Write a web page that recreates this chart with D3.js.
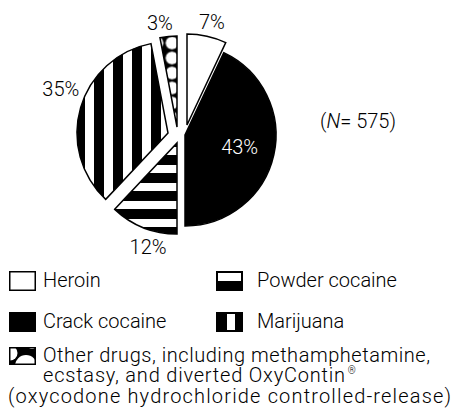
<!DOCTYPE html>
<html>
<head>
<meta charset="utf-8">
<script src="https://cdn.jsdelivr.net/npm/d3@7"></script>
<style>
  body { margin: 0; background: #fff; }
  text { font-family: Roboto, "Liberation Sans", Arial, sans-serif; font-weight: 300; fill: #000; }
</style>
</head>
<body>
<svg id="chart" width="453" height="412"></svg>
<script>
// data
var categories = ["Heroin", "Crack cocaine", "Powder cocaine", "Marijuana", "Other drugs"];
var values = [7, 43, 12, 35, 3];
var sampleN = 575;
var legendText = {
    "Heroin": ["Heroin"],
    "Crack cocaine": ["Crack cocaine"],
    "Powder cocaine": ["Powder cocaine"],
    "Marijuana": ["Marijuana"],
    "Other drugs": ["Other drugs, including methamphetamine,", "ecstasy, and diverted  OxyContin", "(oxycodone hydrochloride controlled-release)"]
};

// layout / style
var W = 453, H = 412;
var cx = 179, cy = 131, R = 91;
// hand-placed explode offsets of the original, one per slice
var explode = [[8, -6], [6, 4], [-2, 12], [-11, 2], [-2, -4]];
// small angular nudges (degrees) of the % labels, as placed in the original
var labelNudge = [1, 0, -6, 6, -4];
var fills = ["#fff", "#000", "url(#powder)", "url(#marijuana)", "url(#other)"];
// widths the long legend lines take in the original
var otherLineWidths = [387, 302, 443];

var svg = d3.select("#chart");
var defs = svg.append("defs");

// horizontal stripes
var p1 = defs.append("pattern").attr("id", "powder")
    .attr("patternUnits", "userSpaceOnUse").attr("width", 18).attr("height", 18)
    .attr("y", 4);
p1.append("rect").attr("width", 18).attr("height", 18).attr("fill", "#fff");
p1.append("rect").attr("y", 8).attr("width", 18).attr("height", 10).attr("fill", "#000");

// vertical stripes
var p2 = defs.append("pattern").attr("id", "marijuana")
    .attr("patternUnits", "userSpaceOnUse").attr("width", 19).attr("height", 19)
    .attr("x", 2);
p2.append("rect").attr("width", 19).attr("height", 19).attr("fill", "#fff");
p2.append("rect").attr("width", 10).attr("height", 19).attr("fill", "#000");

// bubbles
var p3 = defs.append("pattern").attr("id", "other")
    .attr("patternUnits", "userSpaceOnUse").attr("width", 15).attr("height", 15)
    .attr("x", 2.5).attr("y", -1.5);
p3.append("rect").attr("width", 15).attr("height", 15).attr("fill", "#000");
p3.append("circle").attr("cx", 7.5).attr("cy", 7.5).attr("r", 6.8)
    .attr("fill", "#fff").attr("stroke", "#000").attr("stroke-width", 1);

var pie = d3.pie().sort(null).value(function(d){ return d; });
var arc = d3.arc().innerRadius(0).outerRadius(R);
var arcs = pie(values);

var g = svg.append("g").attr("transform", "translate(" + cx + "," + cy + ")");

var slice = g.selectAll(".slice")
    .data(arcs)
    .enter()
    .append("g")
    .attr("class", "slice")
    .attr("transform", function(d, i){ return "translate(" + explode[i][0] + "," + explode[i][1] + ")"; });

slice.append("path")
    .attr("d", arc)
    .attr("fill", function(d, i){ return fills[i]; })
    .attr("stroke", "#000")
    .attr("stroke-width", 1.5);

// percentage labels
slice.append("text")
    .attr("font-size", 20)
    .attr("text-anchor", "middle")
    .attr("dy", "0.35em")
    .style("fill", function(d, i){ return i === 1 ? "#fff" : "#000"; })
    .text(function(d){ return d.data + "%"; })
    .attr("transform", function(d, i){
        var a = (d.startAngle + d.endAngle) / 2 + labelNudge[i] * Math.PI / 180;
        var w = this.getComputedTextLength();
        var r;
        if (i === 1) r = 56;
        else r = R + 5 + w / 2 * Math.abs(Math.sin(a)) + 7 * Math.abs(Math.cos(a));
        return "translate(" + (r * Math.sin(a)) + "," + (-r * Math.cos(a)) + ")";
    });

// sample size
var nt = svg.append("text").attr("x", 320).attr("y", 128).attr("font-size", 20);
nt.append("tspan").text("(");
nt.append("tspan").attr("font-style", "italic").text("N");
nt.append("tspan").text("= " + sampleN + ")");

// legend
var legendOrder = ["Heroin", "Powder cocaine", "Crack cocaine", "Marijuana", "Other drugs"];
var colX = [9, 216], rowY = [271, 312, 347];
var bw = 27, bh = 20;

var leg = svg.selectAll(".legend")
    .data(legendOrder)
    .enter()
    .append("g")
    .attr("class", "legend")
    .attr("transform", function(d, i){
        return "translate(" + colX[i % 2] + "," + rowY[Math.floor(i / 2)] + ")";
    });

defs.append("clipPath").attr("id", "iconclip")
    .append("rect").attr("x", 1.5).attr("y", 1.5).attr("width", bw - 3).attr("height", bh - 5);

leg.each(function(name){
    var el = d3.select(this);
    var h = name === "Other drugs" ? bh - 2 : bh;
    if (name === "Heroin") {
        el.append("rect").attr("x", 0.75).attr("y", 0.75).attr("width", bw - 1.5).attr("height", h - 1.5)
            .attr("fill", "#fff").attr("stroke", "#000").attr("stroke-width", 1.5);
    } else if (name === "Crack cocaine") {
        el.append("rect").attr("width", bw).attr("height", h).attr("fill", "#000");
    } else if (name === "Powder cocaine") {
        el.append("rect").attr("width", bw).attr("height", h).attr("fill", "#000");
        el.append("rect").attr("x", 2).attr("y", 2).attr("width", bw - 4).attr("height", h / 2 - 2).attr("fill", "#fff");
    } else if (name === "Marijuana") {
        el.append("rect").attr("width", bw).attr("height", h).attr("fill", "#000");
        el.append("rect").attr("x", 11).attr("y", 2).attr("width", 8).attr("height", h - 4).attr("fill", "#fff");
    } else {
        el.append("rect").attr("width", bw).attr("height", h).attr("fill", "#000");
        var ic = el.append("g").attr("clip-path", "url(#iconclip)");
        ic.append("circle").attr("cx", 1).attr("cy", 6).attr("r", 7.5).attr("fill", "#fff");
        ic.append("circle").attr("cx", 17).attr("cy", h + 1).attr("r", 11).attr("fill", "#fff");
        ic.append("circle").attr("cx", 23).attr("cy", -3).attr("r", 5).attr("fill", "#fff");
    }
});

leg.each(function(name){
    var el = d3.select(this);
    var lines = legendText[name];
    if (lines.length === 1) {
        var tx = name === "Heroin" || name === "Crack cocaine" ? 34 : 41;
        el.append("text").attr("x", tx).attr("y", 16).attr("font-size", 20).text(lines[0]);
    } else {
        var t = el.append("text").attr("font-size", 20);
        t.append("tspan").attr("x", 34).attr("y", 15)
            .attr("textLength", otherLineWidths[0]).attr("lengthAdjust", "spacing").text(lines[0]);
        t.append("tspan").attr("x", 34).attr("y", 35)
            .attr("textLength", otherLineWidths[1]).attr("lengthAdjust", "spacing").text(lines[1]);
        t.append("tspan").attr("font-size", 10).attr("dx", 2).attr("dy", -8).text("\u00ae");
        t.append("tspan").attr("x", -1).attr("y", 56)
            .attr("textLength", otherLineWidths[2]).attr("lengthAdjust", "spacing").text(lines[2]);
    }
});
</script>
</body>
</html>
